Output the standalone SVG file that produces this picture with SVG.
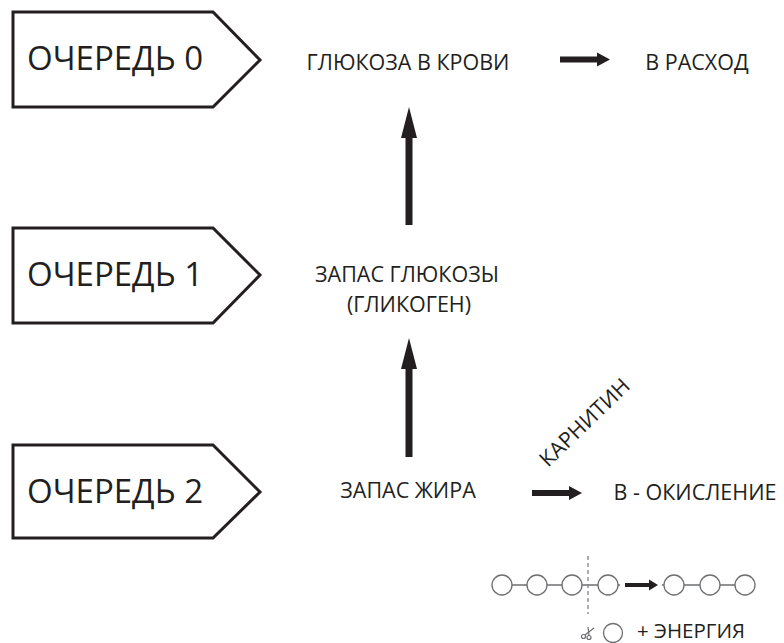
<svg xmlns="http://www.w3.org/2000/svg" width="784" height="643" viewBox="0 0 784 643">
<defs>
<style>
.tag{fill:#fff;stroke:#231f20;stroke-width:3;stroke-linejoin:miter}
.big{font-family:"Open Sans","DejaVu Sans",sans-serif;font-size:33px;fill:#231f20}
.lbl{font-family:"Open Sans","DejaVu Sans",sans-serif;font-size:21.5px;fill:#231f20}
.arr{fill:#231f20}
.bead{fill:#fff;stroke:#6d6e71;stroke-width:1.3}
.link{stroke:#6d6e71;stroke-width:1.3}
</style>
</defs>
<rect width="784" height="643" fill="#fff"/>
<g id="queue0">
<polygon class="tag" points="13,12 213,12 260,60 213,107 13,107"/>
<text class="big" x="27" y="70">ОЧЕРЕДЬ 0</text>
</g>
<g id="queue1">
<polygon class="tag" points="13,228 213,228 260,275 213,323 13,323"/>
<text class="big" x="27" y="286">ОЧЕРЕДЬ 1</text>
</g>
<g id="queue2">
<polygon class="tag" points="13,445 213,445 260,492 213,538 13,538"/>
<text class="big" x="27" y="503">ОЧЕРЕДЬ 2</text>
</g>
<g id="blood-glucose"><text class="lbl" x="408" y="70" text-anchor="middle">ГЛЮКОЗА В КРОВИ</text></g>
<g id="expense"><text class="lbl" x="697" y="70" text-anchor="middle">В РАСХОД</text></g>
<g id="glycogen"><text class="lbl" x="407" y="282" text-anchor="middle">ЗАПАС ГЛЮКОЗЫ</text><text class="lbl" x="409" y="312" text-anchor="middle">(ГЛИКОГЕН)</text></g>
<g id="fat"><text class="lbl" x="408" y="498" text-anchor="middle">ЗАПАС ЖИРА</text></g>
<g id="oxidation"><text class="lbl" x="695" y="500" text-anchor="middle">В - ОКИСЛЕНИЕ</text></g>
<g id="carnitine"><text class="lbl" x="0" y="0" transform="translate(548,468) rotate(-44)">КАРНИТИН</text></g>
<g id="connectors">
<path class="arr" d="M405.5,225 V138 H401 L409,107 L417,138 H412.5 V225 Z"/>
<path class="arr" d="M405.5,457 V369 H401 L409,338 L417,369 H412.5 V457 Z"/>
<path class="arr" d="M560,56.5 H597 V52.5 L610,59.5 L597,66.5 V62.5 H560 Z"/>
<path class="arr" d="M532,490 H569 V486 L582,493 L569,500 V496 H532 Z"/>
</g>
<g id="chain">
<line class="link" x1="502" y1="585" x2="745" y2="585"/>
<line x1="588" y1="556" x2="588" y2="614" stroke="#808285" stroke-width="1.3" stroke-dasharray="4,3"/>
<rect x="620" y="575" width="42" height="20" fill="#fff"/>
<path class="arr" d="M625,583 H649 V579.5 L658,585 L649,590.5 V587 H625 Z"/>
<circle class="bead" cx="502" cy="585" r="10"/>
<circle class="bead" cx="537" cy="585" r="10"/>
<circle class="bead" cx="572" cy="585" r="10"/>
<circle class="bead" cx="608" cy="585" r="10"/>
<circle class="bead" cx="674" cy="585" r="10"/>
<circle class="bead" cx="710" cy="585" r="10"/>
<circle class="bead" cx="745" cy="585" r="10"/>
</g>
<g id="energy">
<g fill="none" stroke="#6d6e71" stroke-width="1.2">
<circle cx="583.5" cy="636.5" r="2"/>
<circle cx="589" cy="637.5" r="2"/>
<line x1="585" y1="635" x2="594" y2="628"/>
<line x1="589" y1="635.5" x2="588" y2="627"/>
</g>
<circle class="bead" cx="613" cy="633" r="9.5"/>
<text class="lbl" x="637" y="638" style="font-size:20.5px">+ ЭНЕРГИЯ</text>
</g>
</svg>
